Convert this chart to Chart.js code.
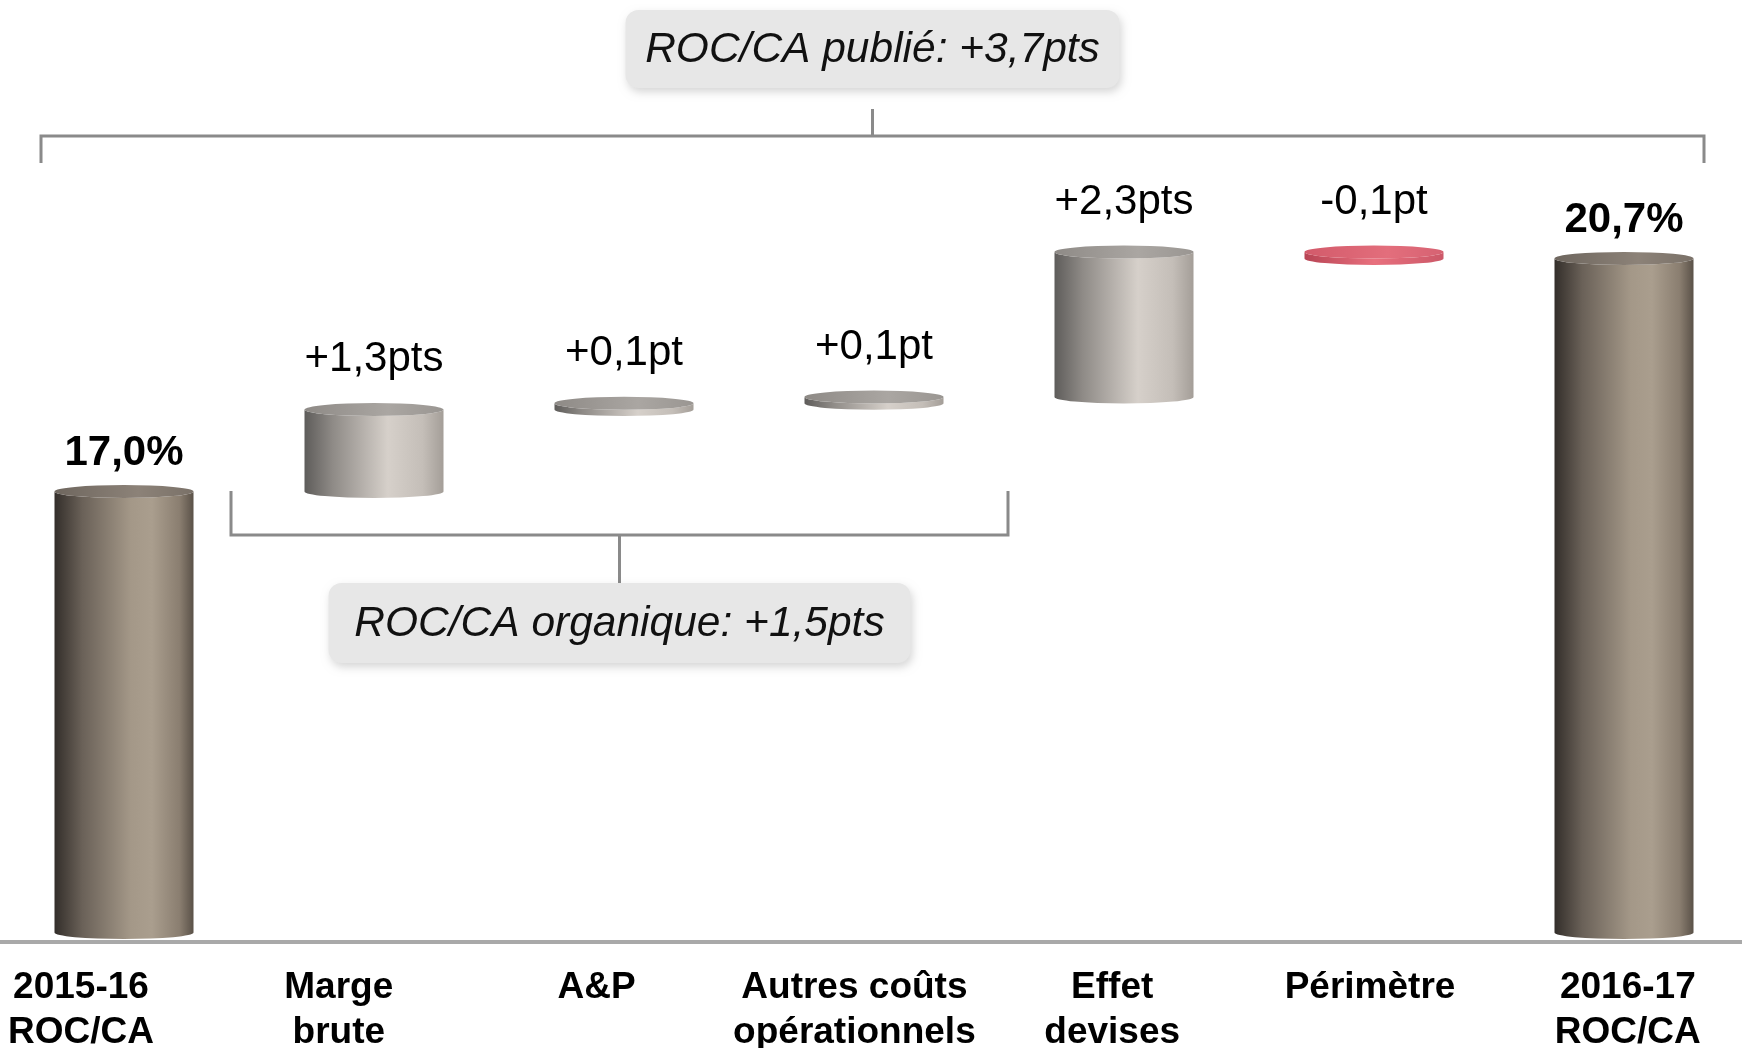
<!DOCTYPE html>
<html>
<head>
<meta charset="utf-8">
<script src="https://cdn.jsdelivr.net/npm/chart.js@4.4.1/dist/chart.umd.min.js"></script>
<style>
  html, body { margin: 0; padding: 0; background: #fff; overflow: hidden; }
  #roc-chart { display: block; margin-left: -1px; }
</style>
</head>
<body>
<canvas id="roc-chart" width="1750" height="1078"></canvas>
<script>
// data
const categories = [['2015-16', 'ROC/CA'], ['Marge', 'brute'], 'A&P', ['Autres coûts', 'opérationnels'], ['Effet', 'devises'], 'Périmètre', ['2016-17', 'ROC/CA']];
const steps = [17.0, 1.3, 0.1, 0.1, 2.3, -0.1, 20.7];
const isTotal = [true, false, false, false, false, false, true];
const valueLabels = ['17,0%', '+1,3pts', '+0,1pt', '+0,1pt', '+2,3pts', '-0,1pt', '20,7%'];
const publishedText = 'ROC/CA publié: +3,7pts';
const organicText = 'ROC/CA organique: +1,5pts';

const yMin = 9.85;
const yMax = 23;
const totalBase = 10;

// waterfall ranges built from the steps
let running = 0;
const ranges = steps.map((v, i) => {
    if (isTotal[i]) {
        running = v;
        return [totalBase, v];
    }
    const r = [running, running + v];
    running += v;
    return r;
});

const FONT = 'Liberation Sans';

function getColors(i) {
    if (isTotal[i]) {
        return {
            body: [[0, '#332e2a'], [0.2, '#6a6158'], [0.55, '#a49888'], [0.7, '#aa9e8e'], [0.9, '#8a7e70'], [1, '#5a5148']],
            top: ['#6e665e', '#8c8278', '#7a7168']
        };
    }
    if (steps[i] < 0) {
        return {
            body: [[0, '#b84454'], [0.5, '#e8707e'], [1, '#cc5868']],
            top: ['#d25a6a', '#e36e7c', '#d66272']
        };
    }
    return {
        body: [[0, '#5e5c5a'], [0.2, '#8e8a86'], [0.6, '#d6d0ca'], [0.85, '#c4beb8'], [1, '#a49e98']],
        top: ['#8e8a86', '#aaa6a2', '#9a9692']
    };
}

function drawCylinder(ctx, x, top, bottom, rx, ry, colors) {
    const body = ctx.createLinearGradient(x - rx, 0, x + rx, 0);
    colors.body.forEach(s => body.addColorStop(s[0], s[1]));
    ctx.beginPath();
    ctx.moveTo(x - rx, top);
    ctx.lineTo(x - rx, bottom);
    ctx.ellipse(x, bottom, rx, ry, 0, Math.PI, 0, true);
    ctx.lineTo(x + rx, top);
    ctx.ellipse(x, top, rx, ry, 0, 0, Math.PI, false);
    ctx.closePath();
    ctx.fillStyle = body;
    ctx.fill();

    const face = ctx.createLinearGradient(x - rx, 0, x + rx, 0);
    face.addColorStop(0, colors.top[0]);
    face.addColorStop(0.6, colors.top[1]);
    face.addColorStop(1, colors.top[2]);
    ctx.beginPath();
    ctx.ellipse(x, top, rx, ry, 0, 0, Math.PI * 2);
    ctx.fillStyle = face;
    ctx.fill();
}

function roundBox(ctx, cx, top, w, h, r) {
    const x = cx - w / 2;
    ctx.save();
    ctx.shadowColor = 'rgba(0,0,0,0.16)';
    ctx.shadowBlur = 8;
    ctx.shadowOffsetX = 2;
    ctx.shadowOffsetY = 4;
    ctx.beginPath();
    ctx.roundRect(x, top, w, h, r);
    ctx.fillStyle = '#e7e7e7';
    ctx.fill();
    ctx.restore();
}

const cylinderPlugin = {
    id: 'cylinders',
    afterDatasetsDraw(chart) {
        const ctx = chart.ctx;
        const bars = chart.getDatasetMeta(0).data;
        ctx.save();
        bars.forEach((bar, i) => {
            const {x, y, base, width} = bar.getProps(['x', 'y', 'base', 'width'], true);
            const top = Math.min(y, base);
            const bottom = Math.max(y, base);
            drawCylinder(ctx, x, top, bottom, width / 2, 6.5, getColors(i));

            ctx.fillStyle = '#000';
            ctx.textAlign = 'center';
            ctx.textBaseline = 'middle';
            ctx.font = (isTotal[i] ? 'bold ' : '') + '42px "' + FONT + '"';
            ctx.fillText(valueLabels[i], x, top - (isTotal[i] ? 38 : 50));
        });

        // brackets
        ctx.strokeStyle = '#8a8a8a';
        ctx.lineWidth = 3;
        const pLeft = bars[0].x - 83;
        const pRight = bars[6].x + 80;
        const pMid = (pLeft + pRight) / 2;
        ctx.beginPath();
        ctx.moveTo(pLeft, 163);
        ctx.lineTo(pLeft, 136);
        ctx.lineTo(pRight, 136);
        ctx.lineTo(pRight, 163);
        ctx.moveTo(pMid, 136);
        ctx.lineTo(pMid, 109);
        ctx.stroke();

        const oLeft = bars[1].x - 143;
        const oRight = bars[3].x + 134;
        const oMid = (oLeft + oRight) / 2;
        ctx.beginPath();
        ctx.moveTo(oLeft, 491);
        ctx.lineTo(oLeft, 535);
        ctx.lineTo(oRight, 535);
        ctx.lineTo(oRight, 491);
        ctx.moveTo(oMid, 535);
        ctx.lineTo(oMid, 585);
        ctx.stroke();

        roundBox(ctx, pMid, 10, 494, 78, 13);
        roundBox(ctx, oMid, 583, 582, 80, 13);

        ctx.fillStyle = '#111';
        ctx.font = 'italic 42.5px "' + FONT + '"';
        ctx.textAlign = 'center';
        ctx.textBaseline = 'middle';
        ctx.fillText(publishedText, pMid, 50);
        ctx.fillText(organicText, oMid, 624);
        ctx.restore();
    }
};

// label row sits on its own evenly spaced grid, a bit wider than the bars
const labelMin = -0.318;
const labelMax = 6.470;

const rocChart = new Chart(document.querySelector('#roc-chart').getContext('2d'), {
    type: 'bar',
    data: {
        labels: categories,
        datasets: [{
            data: ranges,
            backgroundColor: 'rgba(0,0,0,0)',
            borderWidth: 0,
            barPercentage: 0.556,
            categoryPercentage: 1
        }]
    },
    options: {
        responsive: false,
        animation: false,
        devicePixelRatio: 1,
        layout: { padding: { top: 113.5, left: 0, right: 0, bottom: 0 } },
        plugins: {
            legend: { display: false },
            tooltip: { enabled: false }
        },
        scales: {
            x: {
                type: 'category',
                display: false
            },
            xl: {
                type: 'linear',
                position: 'bottom',
                offset: false,
                min: labelMin,
                max: labelMax,
                afterBuildTicks: scale => {
                    scale.ticks = categories.map((c, i) => ({ value: i }));
                },
                // labels already fit inside, don't let the axis squeeze the plot
                afterFit: scale => {
                    scale.paddingLeft = 0;
                    scale.paddingRight = 0;
                },
                grid: { display: false, drawTicks: false, offset: false },
                border: { display: true, color: '#a9a9a9', width: 4 },
                ticks: {
                    autoSkip: false,
                    maxRotation: 0,
                    minRotation: 0,
                    padding: 23,
                    color: '#000',
                    font: { family: FONT, size: 37, weight: 'bold', lineHeight: 45 / 37 },
                    callback: (value, index) => categories[index]
                }
            },
            y: {
                display: false,
                min: yMin,
                max: yMax
            }
        }
    },
    plugins: [cylinderPlugin]
});
</script>
</body>
</html>
